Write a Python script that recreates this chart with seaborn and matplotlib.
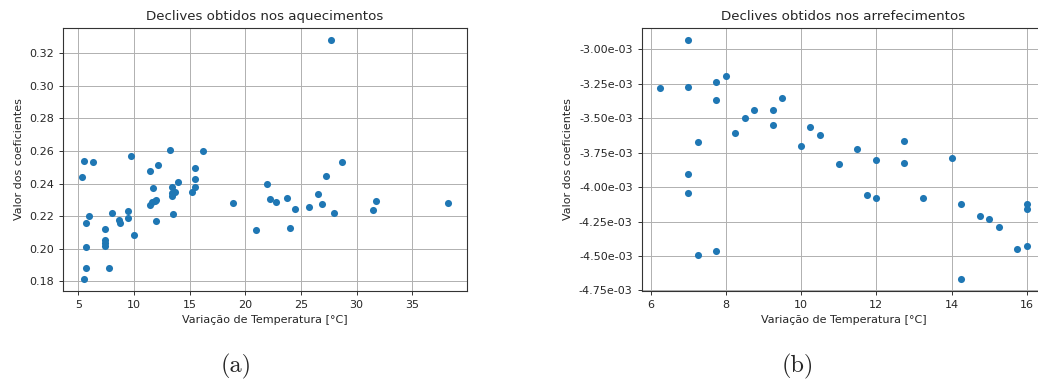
import seaborn as sns
import matplotlib.pyplot as plt
from matplotlib.ticker import MultipleLocator, FormatStrFormatter

# Aquecimentos (a)
dT_aquec = [5.3, 5.5, 6.3, 5.7, 6.0, 5.7, 5.7, 5.5, 7.4, 7.4, 7.4, 7.4, 7.8, 8.0,
            8.7, 8.75, 9.5, 9.5, 9.7, 10.0, 11.4, 11.4, 11.6, 11.75, 11.85, 12.0,
            12.15, 12.0, 13.2, 13.45, 13.45, 13.45, 13.7, 13.95, 13.5, 15.45,
            15.45, 15.45, 15.25, 16.2, 18.93, 20.98, 21.94, 22.18, 22.72, 23.72,
            24.05, 24.44, 25.76, 26.55, 26.94, 27.3, 27.72, 27.96, 28.68, 31.51,
            31.75, 38.25]
decl_aquec = [0.244, 0.254, 0.253, 0.216, 0.220, 0.201, 0.188, 0.1815, 0.212,
              0.205, 0.2035, 0.2017, 0.188, 0.2216, 0.2177, 0.2157, 0.2232,
              0.2191, 0.2571, 0.2081, 0.2477, 0.2266, 0.2284, 0.237, 0.2294,
              0.2300, 0.2513, 0.2171, 0.2606, 0.2376, 0.2339, 0.2321, 0.2349,
              0.2411, 0.2214, 0.2497, 0.2425, 0.2378, 0.2349, 0.2602, 0.2282,
              0.2112, 0.240, 0.2304, 0.2284, 0.2313, 0.2126, 0.2245, 0.2253,
              0.2333, 0.2274, 0.2444, 0.3282, 0.2216, 0.2534, 0.2239, 0.229,
              0.2282]

# Arrefecimentos (b)
dT_arref = [6.25, 7.0, 7.0, 7.0, 7.0, 7.25, 7.25, 7.75, 7.75, 7.75, 8.0, 8.25,
            8.5, 8.75, 9.25, 9.25, 9.5, 10.0, 10.25, 10.5, 11.0, 11.5, 11.75,
            12.0, 12.0, 12.75, 12.75, 13.25, 14.0, 14.25, 14.25, 14.75, 15.0,
            15.25, 15.75, 16.0, 16.0, 16.0]
decl_arref = [-3.284e-3, -2.932e-3, -3.274e-3, -3.904e-3, -4.045e-3, -3.676e-3,
              -4.491e-3, -3.240e-3, -3.371e-3, -4.466e-3, -3.194e-3, -3.606e-3,
              -3.502e-3, -3.441e-3, -3.441e-3, -3.553e-3, -3.351e-3, -3.703e-3,
              -3.562e-3, -3.623e-3, -3.834e-3, -3.727e-3, -4.054e-3, -3.807e-3,
              -4.079e-3, -3.667e-3, -3.824e-3, -4.079e-3, -3.790e-3, -4.125e-3,
              -4.665e-3, -4.209e-3, -4.229e-3, -4.289e-3, -4.447e-3, -4.121e-3,
              -4.158e-3, -4.430e-3]

sns.set_style('ticks')
plt.rcParams['font.family'] = ['DejaVu Sans']

fig = plt.figure(figsize=(10.38, 3.83), dpi=100)
ax1 = fig.add_axes([0.061, 0.241, 0.3886, 0.686])
ax2 = fig.add_axes([0.6182, 0.241, 0.3886, 0.686])

cor = '#1f77b4'
sns.scatterplot(x=dT_aquec, y=decl_aquec, ax=ax1, color=cor, s=26, linewidth=0)
sns.scatterplot(x=dT_arref, y=decl_arref, ax=ax2, color=cor, s=26, linewidth=0)

ax1.set_title('Declives obtidos nos aquecimentos', fontsize=9.6)
ax2.set_title('Declives obtidos nos arrefecimentos', fontsize=9.6)

for ax in (ax1, ax2):
    ax.set_xlabel('Variação de Temperatura [°C]', fontsize=8)
    ax.set_ylabel('Valor dos coeficientes', fontsize=8)
    ax.tick_params(labelsize=8, length=3, width=0.7, color='#333333')
    ax.grid(True, color='#b0b0b0', linewidth=0.7)
    for sp in ax.spines.values():
        sp.set_visible(True)
        sp.set_color('#333333')
        sp.set_linewidth(0.8)

ax1.xaxis.set_major_locator(MultipleLocator(5))
ax1.yaxis.set_major_locator(MultipleLocator(0.02))
ax1.yaxis.set_major_formatter(FormatStrFormatter('%.2f'))

ax2.xaxis.set_major_locator(MultipleLocator(2))
ax2.yaxis.set_major_locator(MultipleLocator(0.25e-3))
ax2.yaxis.set_major_formatter(FormatStrFormatter('%.2e'))

fig.text(0.2274, 0.042, '(a)', family='cmr10', fontsize=17.5, ha='center', va='center')
fig.text(0.7688, 0.042, '(b)', family='cmr10', fontsize=17.5, ha='center', va='center')

fig.savefig('out.png', dpi=100)
